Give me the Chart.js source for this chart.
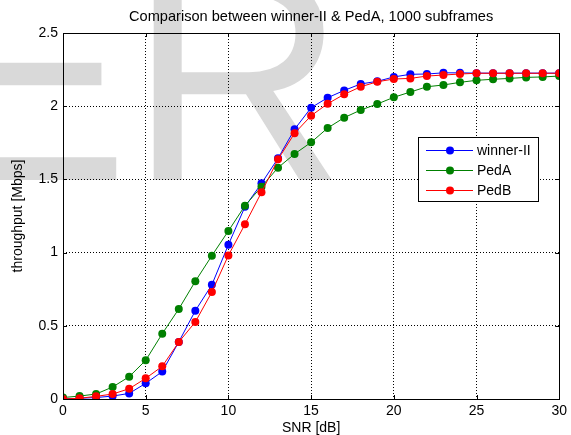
<!DOCTYPE html>
<html>
<head>
<meta charset="utf-8">
<script src="https://cdn.jsdelivr.net/npm/chart.js@4/dist/chart.umd.min.js"></script>
<style>
  html, body { margin: 0; padding: 0; background: #fff; }
  #wrap { width: 571px; height: 435px; }
</style>
</head>
<body>
<div id="wrap"><canvas id="chart" width="571" height="435"></canvas></div>
<script>
// SNR точки (дБ)
const snr = [0, 1, 2, 3, 4, 5, 6, 7, 8, 9, 10, 11, 12, 13, 14, 15, 16, 17, 18, 19, 20, 21, 22, 23, 24, 25, 26, 27, 28, 29, 30];

const winner = [0, 0.005, 0.01, 0.02, 0.038, 0.107, 0.187, 0.39, 0.603, 0.78, 1.054, 1.313, 1.473, 1.644, 1.842,
    1.99, 2.058, 2.108, 2.152, 2.17, 2.20, 2.218, 2.22, 2.228, 2.228, 2.226, 2.226, 2.226, 2.226, 2.226, 2.226];
const pedA = [0.01, 0.02, 0.034, 0.082, 0.152, 0.264, 0.446, 0.615, 0.804, 0.979, 1.148, 1.32, 1.45, 1.58, 1.674,
    1.753, 1.851, 1.922, 1.974, 2.015, 2.061, 2.097, 2.133, 2.145, 2.163, 2.177, 2.184, 2.19, 2.197, 2.20, 2.206];
const pedB = [0, 0.005, 0.018, 0.034, 0.07, 0.141, 0.223, 0.389, 0.526, 0.731, 0.981, 1.193, 1.412, 1.637, 1.815,
    1.935, 2.017, 2.081, 2.133, 2.167, 2.186, 2.19, 2.206, 2.213, 2.22, 2.225, 2.225, 2.225, 2.225, 2.225, 2.225];

const seriesNames = ['winner-II', 'PedA', 'PedB'];
const seriesColors = ['#0000ff', '#008000', '#ff0000'];

const FONT = "'Liberation Sans', Arial, sans-serif";

// фон + водяной знак
const bgPlugin = {
    id: 'bg',
    beforeDraw(chart) {
        const c = chart.ctx;
        c.save();
        c.fillStyle = '#fff';
        c.fillRect(0, 0, chart.width, chart.height);
        c.fillStyle = 'rgb(217,217,217)';
        c.font = '300px ' + FONT;
        c.textBaseline = 'alphabetic';
        c.fillText('ER', -71, 180);
        c.restore();
    }
};

// рамка осей и легенда
const framePlugin = {
    id: 'frame',
    afterDraw(chart) {
        const c = chart.ctx;
        const a = chart.chartArea;
        c.save();
        c.strokeStyle = '#000';
        c.lineWidth = 1;
        c.strokeRect(Math.round(a.left) + 0.5, Math.round(a.top) + 0.5,
            Math.round(a.right - a.left), Math.round(a.bottom - a.top));

        // маленькие засечки внутрь
        c.beginPath();
        chart.scales.x.ticks.forEach(t => {
            const px = Math.round(chart.scales.x.getPixelForValue(t.value)) + 0.5;
            c.moveTo(px, a.bottom); c.lineTo(px, a.bottom - 4);
            c.moveTo(px, a.top); c.lineTo(px, a.top + 4);
        });
        chart.scales.y.ticks.forEach(t => {
            const py = Math.round(chart.scales.y.getPixelForValue(t.value)) + 0.5;
            c.moveTo(a.left, py); c.lineTo(a.left + 4, py);
            c.moveTo(a.right, py); c.lineTo(a.right - 4, py);
        });
        c.stroke();

        // легенда
        const bx = 418, by = 137, bw = 120, bh = 64;
        c.fillStyle = '#fff';
        c.fillRect(bx, by, bw, bh);
        c.strokeRect(bx + 0.5, by + 0.5, bw, bh);
        c.font = '14px ' + FONT;
        c.textBaseline = 'middle';
        chart.data.datasets.forEach((ds, i) => {
            const y = 150 + i * 20;
            c.strokeStyle = ds.borderColor;
            c.beginPath();
            c.moveTo(426, y + 0.5); c.lineTo(473, y + 0.5);
            c.stroke();
            c.fillStyle = ds.backgroundColor;
            c.beginPath();
            c.arc(450, y + 0.5, 4, 0, Math.PI * 2);
            c.fill();
            c.fillStyle = '#000';
            c.fillText(ds.label, 477, y + 1);
        });
        c.restore();
    }
};

const allSeries = [winner, pedA, pedB];

const ctx = document.getElementById('chart').getContext('2d');
let myChart = new Chart(ctx, {
    type: 'line',
    data: {
        datasets: allSeries.map((s, i) => ({
            label: seriesNames[i],
            data: s.map((v, j) => ({ x: snr[j], y: v })),
            borderColor: seriesColors[i],
            backgroundColor: seriesColors[i],
            borderWidth: 1,
            pointRadius: 4,
            pointBorderWidth: 0,
            pointBackgroundColor: seriesColors[i],
            tension: 0,
            order: 2 - i
        }))
    },
    options: {
        responsive: false,
        animation: false,
        layout: { padding: { right: 10 } },
        plugins: {
            legend: { display: false },
            tooltip: { enabled: false },
            title: {
                display: true,
                fullSize: false,
                text: 'Comparison between winner-II & PedA, 1000 subframes',
                color: '#000',
                font: { family: FONT, size: 14.6, weight: 'normal' },
                padding: { top: 8.5, bottom: 7 }
            }
        },
        scales: {
            x: {
                type: 'linear',
                min: 0, max: 30,
                afterFit(scale) { scale.height = 36; },
                ticks: { stepSize: 5, color: '#000', padding: 4, maxRotation: 0,
                    font: { family: FONT, size: 14 } },
                grid: { color: '#000', drawTicks: false, lineWidth: 1 },
                border: { display: false, dash: [1, 2] },
                title: { display: true, text: 'SNR [dB]', color: '#000',
                    font: { family: FONT, size: 14 }, padding: { top: 0, bottom: -2 } }
            },
            y: {
                min: 0, max: 2.5,
                afterFit(scale) { scale.width = 63; },
                ticks: { stepSize: 0.5, color: '#000', padding: 5,
                    font: { family: FONT, size: 14 },
                    callback: v => String(v) },
                grid: { color: '#000', drawTicks: false, lineWidth: 1 },
                border: { display: false, dash: [1, 2] },
                title: { display: true, text: 'throughput [Mbps]', color: '#000',
                    font: { family: FONT, size: 14 }, padding: { top: 10, bottom: 0 } }
            }
        }
    },
    plugins: [bgPlugin, framePlugin]
});
</script>
</body>
</html>
